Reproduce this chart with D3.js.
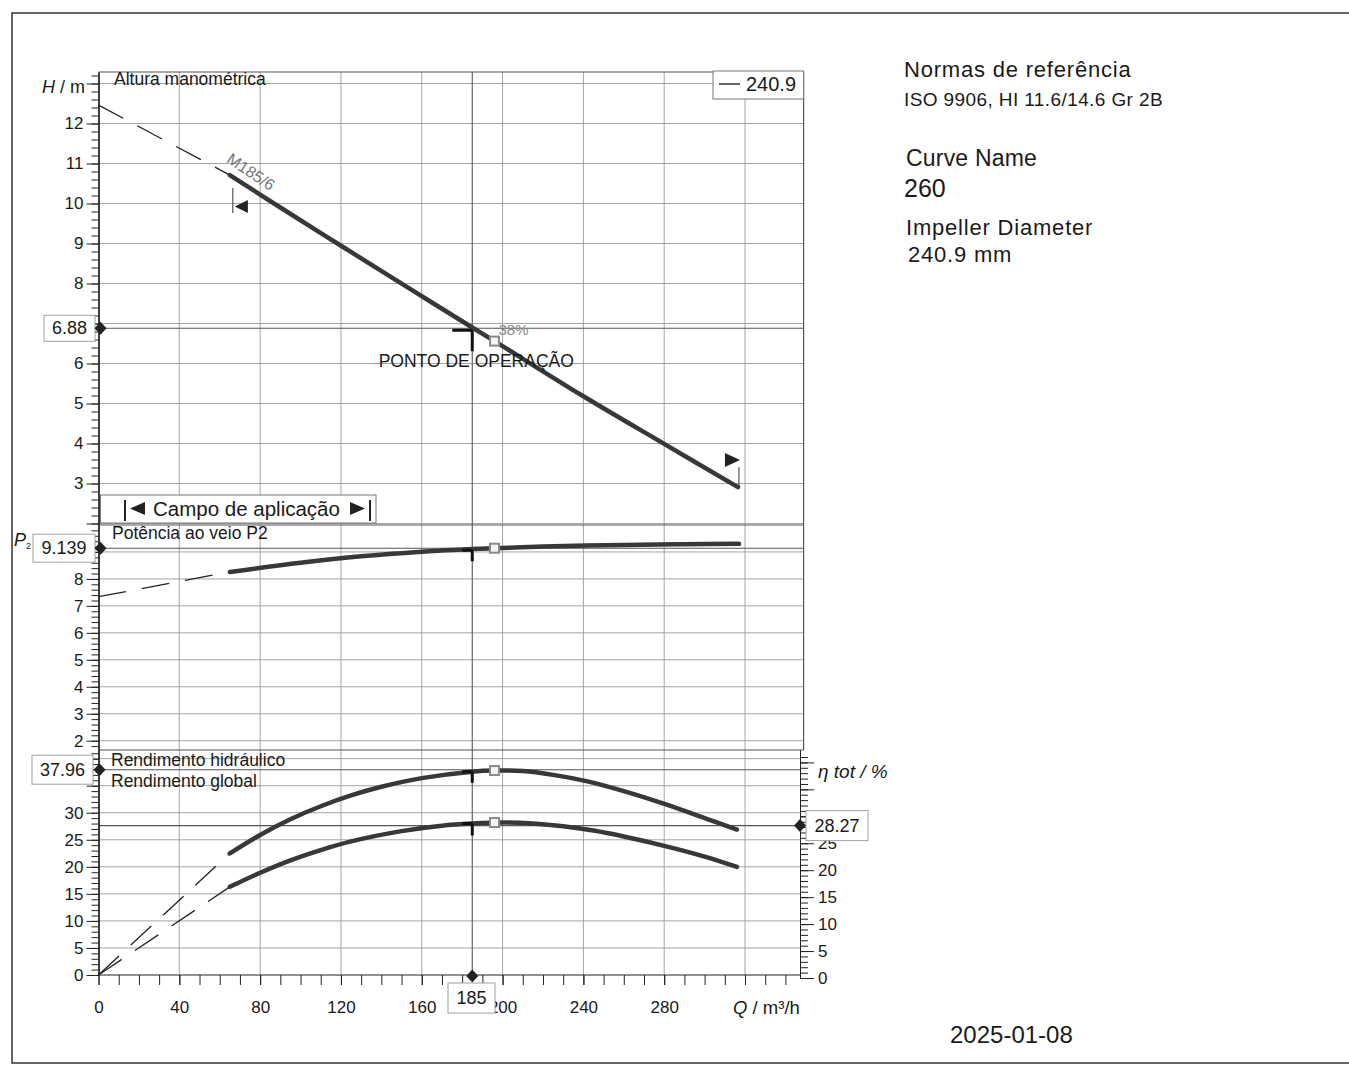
<!DOCTYPE html>
<html><head><meta charset="utf-8">
<script src="https://cdn.jsdelivr.net/npm/d3@7"></script>
<style>
body{margin:0;background:#fff}
svg{display:block}
text{font-family:"Liberation Sans",Arial,sans-serif;fill:#1a1a1a}
</style>
</head><body>
<svg id="c" width="1349" height="1067"></svg>
<script>
// ---------- data ----------
const qLabels = [0, 40, 80, 120, 160, 200, 240, 280];
const qGrid = [40, 80, 120, 160, 200, 240, 280, 320];
const hTicks = [3, 4, 5, 6, 8, 9, 10, 11, 12];
const hTickMarks = [2, 7, 13];
const hGrid = [2, 3, 4, 5, 6, 7, 8, 9, 10, 11, 12, 13];
const pTicks = [2, 3, 4, 5, 6, 7, 8];
const pGrid = [2, 3, 4, 5, 6, 7, 8, 9];
const effTicks = [0, 5, 10, 15, 20, 25, 30];
const effGrid = [5, 10, 15, 20, 25, 30, 35, 40];
const effTotTicks = [0, 5, 10, 15, 20, 25];
const effTotTickMarks = [30, 35, 40];

// head curve (m)
const headDashQ = [0, 65];
const headDashH = [12.46, 10.71];
const headQ = [65, 90, 123, 155, 185, 196, 240, 280, 316.5];
const headH = [10.71, 9.90, 8.85, 7.84, 6.90, 6.56, 5.18, 3.99, 2.91];

// shaft power P2 (kW)
const powDashQ = [0, 65];
const powDashP = [7.34, 8.26];
const powQ = [65, 100, 130, 160, 185, 196, 220, 260, 290, 317];
const powP = [8.26, 8.60, 8.84, 9.01, 9.11, 9.14, 9.20, 9.26, 9.29, 9.30];

// hydraulic efficiency (%)
const effHDashQ = [0, 65];
const effHDash = [0, 22.5];
const effHQ = [65, 80, 95, 110, 125, 140, 160, 185, 196, 210, 225, 242, 260, 282, 300, 316];
const effH = [22.5, 25.9, 28.8, 31.2, 33.2, 34.8, 36.4, 37.6, 37.8, 37.7, 37.0, 35.8, 34.0, 31.4, 29.0, 26.9];

// overall efficiency (%)
const effGDashQ = [0, 65];
const effGDash = [0, 16.3];
const effGQ = [65, 80, 95, 110, 125, 150, 170, 185, 200, 215, 230, 245, 260, 282, 300, 316];
const effG = [16.3, 18.9, 21.2, 23.1, 24.7, 26.6, 27.6, 28.0, 28.2, 28.0, 27.5, 26.7, 25.6, 23.7, 21.9, 20.0];

// operating point & best efficiency point
const opQ = 185, opH = 6.88, opP = 9.139, opEffH = 37.96, opEffT = 28.27;
const bepQ = 196, bepH = 6.56, bepP = 9.14, bepEffH = 37.8, bepEffG = 28.2;
const appMin = 66.5, appMax = 317;

const FONT = '"Liberation Sans",Arial,sans-serif';
const svg = d3.select("#c");
const zip = (a, b) => a.map((v, i) => [v, b[i]]);

// ---------- scales ----------
const x = d3.scaleLinear().domain([0, 349]).range([98.5, 803.6]);
const yH = d3.scaleLinear().domain([1.9625, 13.2875]).range([525, 72]);
const yP = d3.scaleLinear().domain([1.655, 10.0]).range([750, 525]);
const yE = d3.scaleLinear().domain([0, 41.6]).range([975, 750]);
const yT = d3.scaleLinear().domain([0, 42.3]).range([978, 750]);
const X0 = x(0), XR = x(349), XB = 800;

// ---------- outer frame ----------
svg.append("rect").attr("x", 12).attr("y", 13).attr("width", 1400).attr("height", 1050)
  .attr("fill", "none").attr("stroke", "#333").attr("stroke-width", 1.5);

// ---------- grid ----------
const grid = svg.append("g").attr("stroke", "#9a9a9a").attr("stroke-width", 0.9);
qGrid.forEach(q => grid.append("line").attr("x1", x(q)).attr("x2", x(q)).attr("y1", 72).attr("y2", 975));
hGrid.forEach(v => grid.append("line").attr("x1", X0).attr("x2", XR).attr("y1", yH(v)).attr("y2", yH(v)));
pGrid.forEach(v => grid.append("line").attr("x1", X0).attr("x2", XR).attr("y1", yP(v)).attr("y2", yP(v)));
effGrid.forEach(v => grid.append("line").attr("x1", X0).attr("x2", XB).attr("y1", yE(v)).attr("y2", yE(v)));

// panel borders
const pb = svg.append("g").attr("stroke", "#555").attr("stroke-width", 1.2);
pb.append("line").attr("x1", X0).attr("x2", XR).attr("y1", 72).attr("y2", 72);
pb.append("line").attr("x1", X0).attr("x2", XR).attr("y1", 525).attr("y2", 525);
pb.append("line").attr("x1", X0).attr("x2", XR).attr("y1", 750).attr("y2", 750);
pb.append("line").attr("x1", XR).attr("x2", XR).attr("y1", 72).attr("y2", 750);

// operating point reference lines
const ref = svg.append("g").attr("stroke", "#555").attr("stroke-width", 1.1);
ref.append("line").attr("x1", x(opQ)).attr("x2", x(opQ)).attr("y1", 72).attr("y2", 975);
ref.append("line").attr("x1", X0).attr("x2", XR).attr("y1", yH(opH)).attr("y2", yH(opH));
ref.append("line").attr("x1", X0).attr("x2", XR).attr("y1", yP(opP)).attr("y2", yP(opP));
ref.append("line").attr("x1", X0).attr("x2", XB).attr("y1", yE(opEffH)).attr("y2", yE(opEffH));
ref.append("line").attr("x1", X0).attr("x2", XB).attr("y1", yT(opEffT)).attr("y2", yT(opEffT));

// ---------- axes ----------
function styleAxis(g, size) {
  g.attr("font-family", FONT).attr("font-size", size);
  g.selectAll("text").attr("fill", "#1a1a1a");
  g.selectAll("line").attr("stroke", "#222");
  g.select(".domain").attr("stroke", "#222");
}
function leftAxis(scale, major, marks, minor) {
  svg.append("g").attr("transform", `translate(${X0},0)`)
    .call(d3.axisLeft(scale).tickValues(minor).tickSize(7).tickSizeOuter(0).tickFormat(""))
    .call(g => styleAxis(g, 17));
  svg.append("g").attr("transform", `translate(${X0},0)`)
    .call(d3.axisLeft(scale).tickValues(marks).tickSize(12).tickSizeOuter(0).tickFormat(""))
    .call(g => styleAxis(g, 17));
  svg.append("g").attr("transform", `translate(${X0},0)`)
    .call(d3.axisLeft(scale).tickValues(major).tickSize(12).tickSizeOuter(0).tickPadding(3))
    .call(g => styleAxis(g, 17));
}
leftAxis(yH, hTicks, hTickMarks, d3.range(2.0, 13.21, 0.2));
leftAxis(yP, pTicks, [9], d3.range(1.8, 9.91, 0.2));
leftAxis(yE, effTicks, [35, 40], d3.range(0, 41.1, 1));

// right axis (eta tot)
svg.append("g").attr("transform", `translate(${XB},0)`)
  .call(d3.axisRight(yT).tickValues(d3.range(0, 41.1, 1)).tickSize(8).tickSizeOuter(0).tickFormat(""))
  .call(g => styleAxis(g, 17));
svg.append("g").attr("transform", `translate(${XB},0)`)
  .call(d3.axisRight(yT).tickValues(effTotTickMarks).tickSize(14).tickSizeOuter(0).tickFormat(""))
  .call(g => styleAxis(g, 17));
svg.append("g").attr("transform", `translate(${XB},0)`)
  .call(d3.axisRight(yT).tickValues(effTotTicks).tickSize(14).tickSizeOuter(0).tickPadding(4))
  .call(g => styleAxis(g, 17));

// bottom axis
svg.append("g").attr("transform", `translate(0,975)`)
  .call(d3.axisBottom(x).tickValues(d3.range(0, 341, 10)).tickSize(10).tickSizeOuter(0).tickFormat(""))
  .call(g => styleAxis(g, 17))
  .call(g => g.select(".domain").attr("d", `M${X0},0H${XB}`));
svg.append("g").attr("transform", `translate(0,975)`)
  .call(d3.axisBottom(x).tickValues(qLabels).tickSize(10).tickSizeOuter(0).tickPadding(16))
  .call(g => styleAxis(g, 17))
  .call(g => g.select(".domain").remove());

// ---------- curves ----------
function draw(scale, qs, vs, dashed) {
  const line = d3.line().x(d => x(d[0])).y(d => scale(d[1]))
    .curve(dashed ? d3.curveLinear : d3.curveCatmullRom.alpha(0.5));
  svg.append("path").datum(zip(qs, vs)).attr("d", line).attr("fill", "none")
    .attr("stroke", dashed ? "#222" : "#383838")
    .attr("stroke-width", dashed ? 1.3 : 4.5)
    .attr("stroke-linecap", dashed ? "butt" : "round")
    .attr("stroke-dasharray", dashed ? "28,16" : null);
}
draw(yH, headDashQ, headDashH, true);
draw(yH, headQ, headH, false);
draw(yP, powDashQ, powDashP, true);
draw(yP, powQ, powP, false);
draw(yE, effHDashQ, effHDash, true);
draw(yE, effHQ, effH, false);
draw(yE, effGDashQ, effGDash, true);
draw(yE, effGQ, effG, false);

// application range markers on head curve
const hMinY = yH(headH[0]), hMaxY = yH(headH[headH.length - 1]);
svg.append("line").attr("x1", x(appMin)).attr("x2", x(appMin)).attr("y1", hMinY + 13).attr("y2", hMinY + 38)
  .attr("stroke", "#333").attr("stroke-width", 1);
svg.append("path").attr("d", `M${x(appMin) + 2},${hMinY + 31.5} L${x(appMin) + 15},${hMinY + 25} L${x(appMin) + 15},${hMinY + 38}Z`).attr("fill", "#222");
svg.append("line").attr("x1", x(appMax)).attr("x2", x(appMax)).attr("y1", hMaxY - 20).attr("y2", hMaxY)
  .attr("stroke", "#333").attr("stroke-width", 1);
svg.append("path").attr("d", `M${x(appMax) + 1},${hMaxY - 27} L${x(appMax) - 14},${hMaxY - 34} L${x(appMax) - 14},${hMaxY - 20}Z`).attr("fill", "#222");

// curve name label
svg.append("text").attr("transform", `translate(${x(63)},${yH(11.05)}) rotate(34)`)
  .attr("font-size", 16).style("fill", "#777").text("M185/6");

// operating point glyphs
function opGlyph(yy, w, h) {
  const xx = x(opQ);
  svg.append("path").attr("d", `M${xx - w},${yy} L${xx - 2},${yy} Q${xx},${yy} ${xx},${yy + 3} L${xx},${yy + h}`)
    .attr("fill", "none").attr("stroke", "#111").attr("stroke-width", 3);
}
opGlyph(yH(opH) + 2, 20, 21);
opGlyph(yP(opP) + 2, 10, 11);
opGlyph(yE(37.6), 10, 11);
opGlyph(yE(28.0), 10, 12);

// BEP squares
[[yH, bepH], [yP, bepP], [yE, bepEffH], [yE, bepEffG]].forEach(([s, v]) => {
  svg.append("rect").attr("x", x(bepQ) - 4.5).attr("y", s(v) - 4.5).attr("width", 9).attr("height", 9)
    .attr("fill", "#f4f4f4").attr("stroke", "#8a8a8a").attr("stroke-width", 2);
});
svg.append("text").attr("x", x(bepQ) + 4).attr("y", yH(bepH) - 6).attr("font-size", 15)
  .style("fill", "#888").text("38%");
svg.append("text").attr("x", x(opQ) + 4).attr("y", yH(opH) + 39).attr("font-size", 17.5)
  .attr("text-anchor", "middle").text("PONTO DE OPERAÇÃO");

// diamonds
function diamond(cx, cy) {
  svg.append("path").attr("d", `M${cx},${cy - 6.5} L${cx + 6},${cy} L${cx},${cy + 6.5} L${cx - 6},${cy}Z`).attr("fill", "#222");
}
// value boxes
function valBox(x1, x2, cy, h, label) {
  svg.append("rect").attr("x", x1).attr("y", cy - h / 2).attr("width", x2 - x1).attr("height", h)
    .attr("fill", "#fff").attr("stroke", "#a0a0a0").attr("stroke-width", 1);
  svg.append("text").attr("x", (x1 + x2) / 2).attr("y", cy + 6).attr("text-anchor", "middle")
    .attr("font-size", 18).text(label);
}
valBox(44, 95, yH(opH), 26, "6.88");
valBox(33, 95, yP(opP), 28, "9.139");
valBox(32, 93, yE(opEffH), 29, "37.96");
valBox(806, 868, yT(opEffT), 30, "28.27");
valBox(448, 495, 998, 30, "185");
diamond(X0 + 2, yH(opH));
diamond(X0 + 2, yP(opP));
diamond(X0 + 1, yE(opEffH));
diamond(XB, yT(opEffT));
diamond(x(opQ), 976);

// ---------- Campo de aplicação ----------
svg.append("rect").attr("x", X0 + 2).attr("y", 495).attr("width", 374 - X0).attr("height", 28)
  .attr("fill", "#fff").attr("stroke", "#777").attr("stroke-width", 1);
svg.append("line").attr("x1", 125).attr("x2", 125).attr("y1", 500).attr("y2", 521).attr("stroke", "#222").attr("stroke-width", 2);
svg.append("path").attr("d", "M130,508.5 L145,502 L145,515Z").attr("fill", "#222");
svg.append("text").attr("x", 153).attr("y", 516).attr("font-size", 20.5).text("Campo de aplicação");
svg.append("path").attr("d", "M365,508.5 L350,502 L350,515Z").attr("fill", "#222");
svg.append("line").attr("x1", 370).attr("x2", 370).attr("y1", 500).attr("y2", 521).attr("stroke", "#222").attr("stroke-width", 2);

// legend box
svg.append("rect").attr("x", 713).attr("y", 71).attr("width", XR - 713).attr("height", 28)
  .attr("fill", "#fff").attr("stroke", "#777").attr("stroke-width", 1);
svg.append("line").attr("x1", 719).attr("x2", 740).attr("y1", 84).attr("y2", 84).attr("stroke", "#333").attr("stroke-width", 1.5);
svg.append("text").attr("x", 746).attr("y", 91).attr("font-size", 20).text("240.9");

// ---------- panel labels ----------
svg.append("text").attr("x", 114).attr("y", 85).attr("font-size", 17.5).text("Altura manométrica");
svg.append("text").attr("x", 112).attr("y", 539).attr("font-size", 17.5).text("Potência ao veio P2");
svg.append("text").attr("x", 111).attr("y", 766).attr("font-size", 17.5).text("Rendimento hidráulico");
svg.append("text").attr("x", 111).attr("y", 787).attr("font-size", 17.5).text("Rendimento global");

// axis titles
const ht = svg.append("text").attr("x", 42).attr("y", 93).attr("font-size", 18);
ht.append("tspan").attr("font-style", "italic").text("H");
ht.append("tspan").text(" / m");
const pt = svg.append("text").attr("x", 14).attr("y", 546).attr("font-size", 18);
pt.append("tspan").attr("font-style", "italic").text("P");
pt.append("tspan").attr("font-size", 9).attr("dy", 3).text("2");
svg.append("text").attr("x", 818).attr("y", 778).attr("font-size", 19).attr("font-style", "italic").text("η tot / %");
const qt = svg.append("text").attr("x", 733).attr("y", 1014).attr("font-size", 18.5);
qt.append("tspan").attr("font-style", "italic").text("Q");
qt.append("tspan").text(" / m³/h");

// ---------- right info text ----------
const info = [
  ["Normas de referência", 904, 77, 22, 0.8],
  ["ISO 9906, HI 11.6/14.6 Gr 2B", 904, 106, 19, 0.4],
  ["Curve Name", 906, 166, 23, 0.2],
  ["260", 904, 197, 25, 0],
  ["Impeller Diameter", 906, 235, 22, 0.8],
  ["240.9 mm", 908, 262, 22, 0.8],
  ["2025-01-08", 950, 1043, 24, 0]
];
info.forEach(([t, xx, yy, fs, ls]) => svg.append("text").attr("x", xx).attr("y", yy)
  .attr("font-size", fs).attr("letter-spacing", ls).text(t));
</script>
</body></html>
